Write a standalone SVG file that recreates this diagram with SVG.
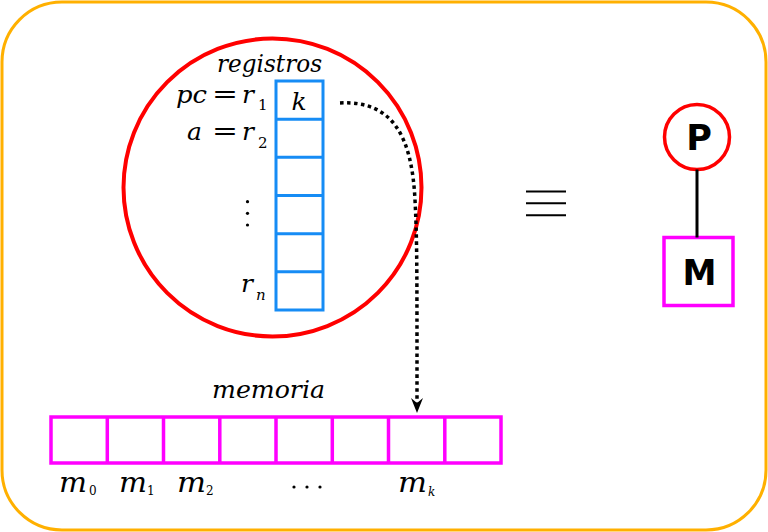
<svg xmlns="http://www.w3.org/2000/svg" width="768" height="532" viewBox="0 0 768 532">
<style>
.m{font-family:"DejaVu Serif","Liberation Serif",serif;font-style:italic;font-size:25px;fill:#000}
.lb{font-family:"DejaVu Serif","Liberation Serif",serif;font-style:italic;font-size:28px;fill:#000}
.s{font-family:"DejaVu Serif","Liberation Serif",serif;font-style:normal;font-size:15px;fill:#000}
.ss{font-family:"DejaVu Serif","Liberation Serif",serif;font-style:normal;font-size:12px;fill:#000}
.it{font-style:italic}
.eq{font-family:"DejaVu Serif","Liberation Serif",serif;font-style:normal;font-size:26px;fill:#000}
.reg{fill:none;stroke:#168cf5;stroke-width:3}
.mem{fill:none;stroke:#f0f;stroke-width:3.5}
.big{font-family:"DejaVu Sans","Noto Sans",sans-serif;font-weight:bold;font-size:35px;fill:#000;text-anchor:middle}
</style>
<rect x="2" y="2" width="764" height="528" rx="60" ry="60" fill="#fff" stroke="#ffb000" stroke-width="3"/>

<g id="procesador">
<circle cx="272.5" cy="187.5" r="149" fill="none" stroke="#f00" stroke-width="4"/>
<text class="m" x="217" y="72" textLength="105" lengthAdjust="spacingAndGlyphs">registros</text>
<g id="registros">
<rect class="reg" x="276" y="81" width="47" height="229"/>
<path class="reg" d="M276 119.2H323M276 157.3H323M276 195.5H323M276 233.7H323M276 271.8H323"/>
</g>
<text class="m" x="299" y="110" text-anchor="middle">k</text>
<text class="m" x="176" y="103" textLength="31" lengthAdjust="spacingAndGlyphs">pc</text>
<text class="eq" x="212" y="103" textLength="26" lengthAdjust="spacingAndGlyphs">=</text>
<text class="m" x="242" y="103">r</text>
<text class="s" x="258" y="110">1</text>
<text class="m" x="187" y="140">a</text>
<text class="eq" x="212" y="140" textLength="26" lengthAdjust="spacingAndGlyphs">=</text>
<text class="m" x="242" y="140">r</text>
<text class="s" x="258" y="148">2</text>
<circle cx="247.5" cy="201.7" r="1.6"/>
<circle cx="247.5" cy="213.3" r="1.6"/>
<circle cx="247.5" cy="225" r="1.6"/>
<text class="m" x="241" y="292">r</text>
<text class="s" x="256" y="300" style="font-style:italic">n</text>
</g>

<g id="memoria">
<text class="m" x="212" y="398" textLength="113" lengthAdjust="spacingAndGlyphs">memoria</text>
<rect class="mem" x="51" y="417" width="450" height="46"/>
<path class="mem" d="M107.3 417V463M163.5 417V463M219.8 417V463M276 417V463M332.3 417V463M388.5 417V463M444.8 417V463"/>
<text class="lb" x="59" y="492" textLength="28" lengthAdjust="spacingAndGlyphs">m</text>
<text class="ss" x="89" y="495">0</text>
<text class="lb" x="119" y="492" textLength="28" lengthAdjust="spacingAndGlyphs">m</text>
<text class="ss" x="147" y="495">1</text>
<text class="lb" x="177" y="492" textLength="29" lengthAdjust="spacingAndGlyphs">m</text>
<text class="ss" x="206" y="495">2</text>
<circle cx="294" cy="487" r="1.6"/>
<circle cx="307" cy="487" r="1.6"/>
<circle cx="320" cy="487" r="1.6"/>
<text class="lb" x="398" y="492" textLength="29" lengthAdjust="spacingAndGlyphs">m</text>
<text class="ss" x="428" y="496" style="font-style:italic">k</text>
</g>

<g id="equivalente">
<path d="M526 191.5H566M526 203.3H566M526 215.2H566" stroke="#000" stroke-width="2"/>
</g>

<g id="P">
<circle cx="697" cy="137" r="32.5" fill="#fff" stroke="#f00" stroke-width="3.5"/>
<text class="big" x="699" y="150">P</text>
</g>
<g id="M">
<rect x="664" y="237.5" width="69" height="68" fill="#fff" stroke="#f0f" stroke-width="3.5"/>
<text class="big" x="699.5" y="285" textLength="34" lengthAdjust="spacingAndGlyphs">M</text>
</g>

<g id="conectores">
<path d="M340 103 C395 100 412 140 415 200 C417 240 417 260 417 404" fill="none" stroke="#000" stroke-width="3.5" stroke-dasharray="3.5 3.5"/>
<path d="M411 398 L417 413 L423 398 L417 403 Z" fill="#000"/>
<line x1="697" y1="169.5" x2="697" y2="237.5" stroke="#000" stroke-width="3"/>
</g>
</svg>
